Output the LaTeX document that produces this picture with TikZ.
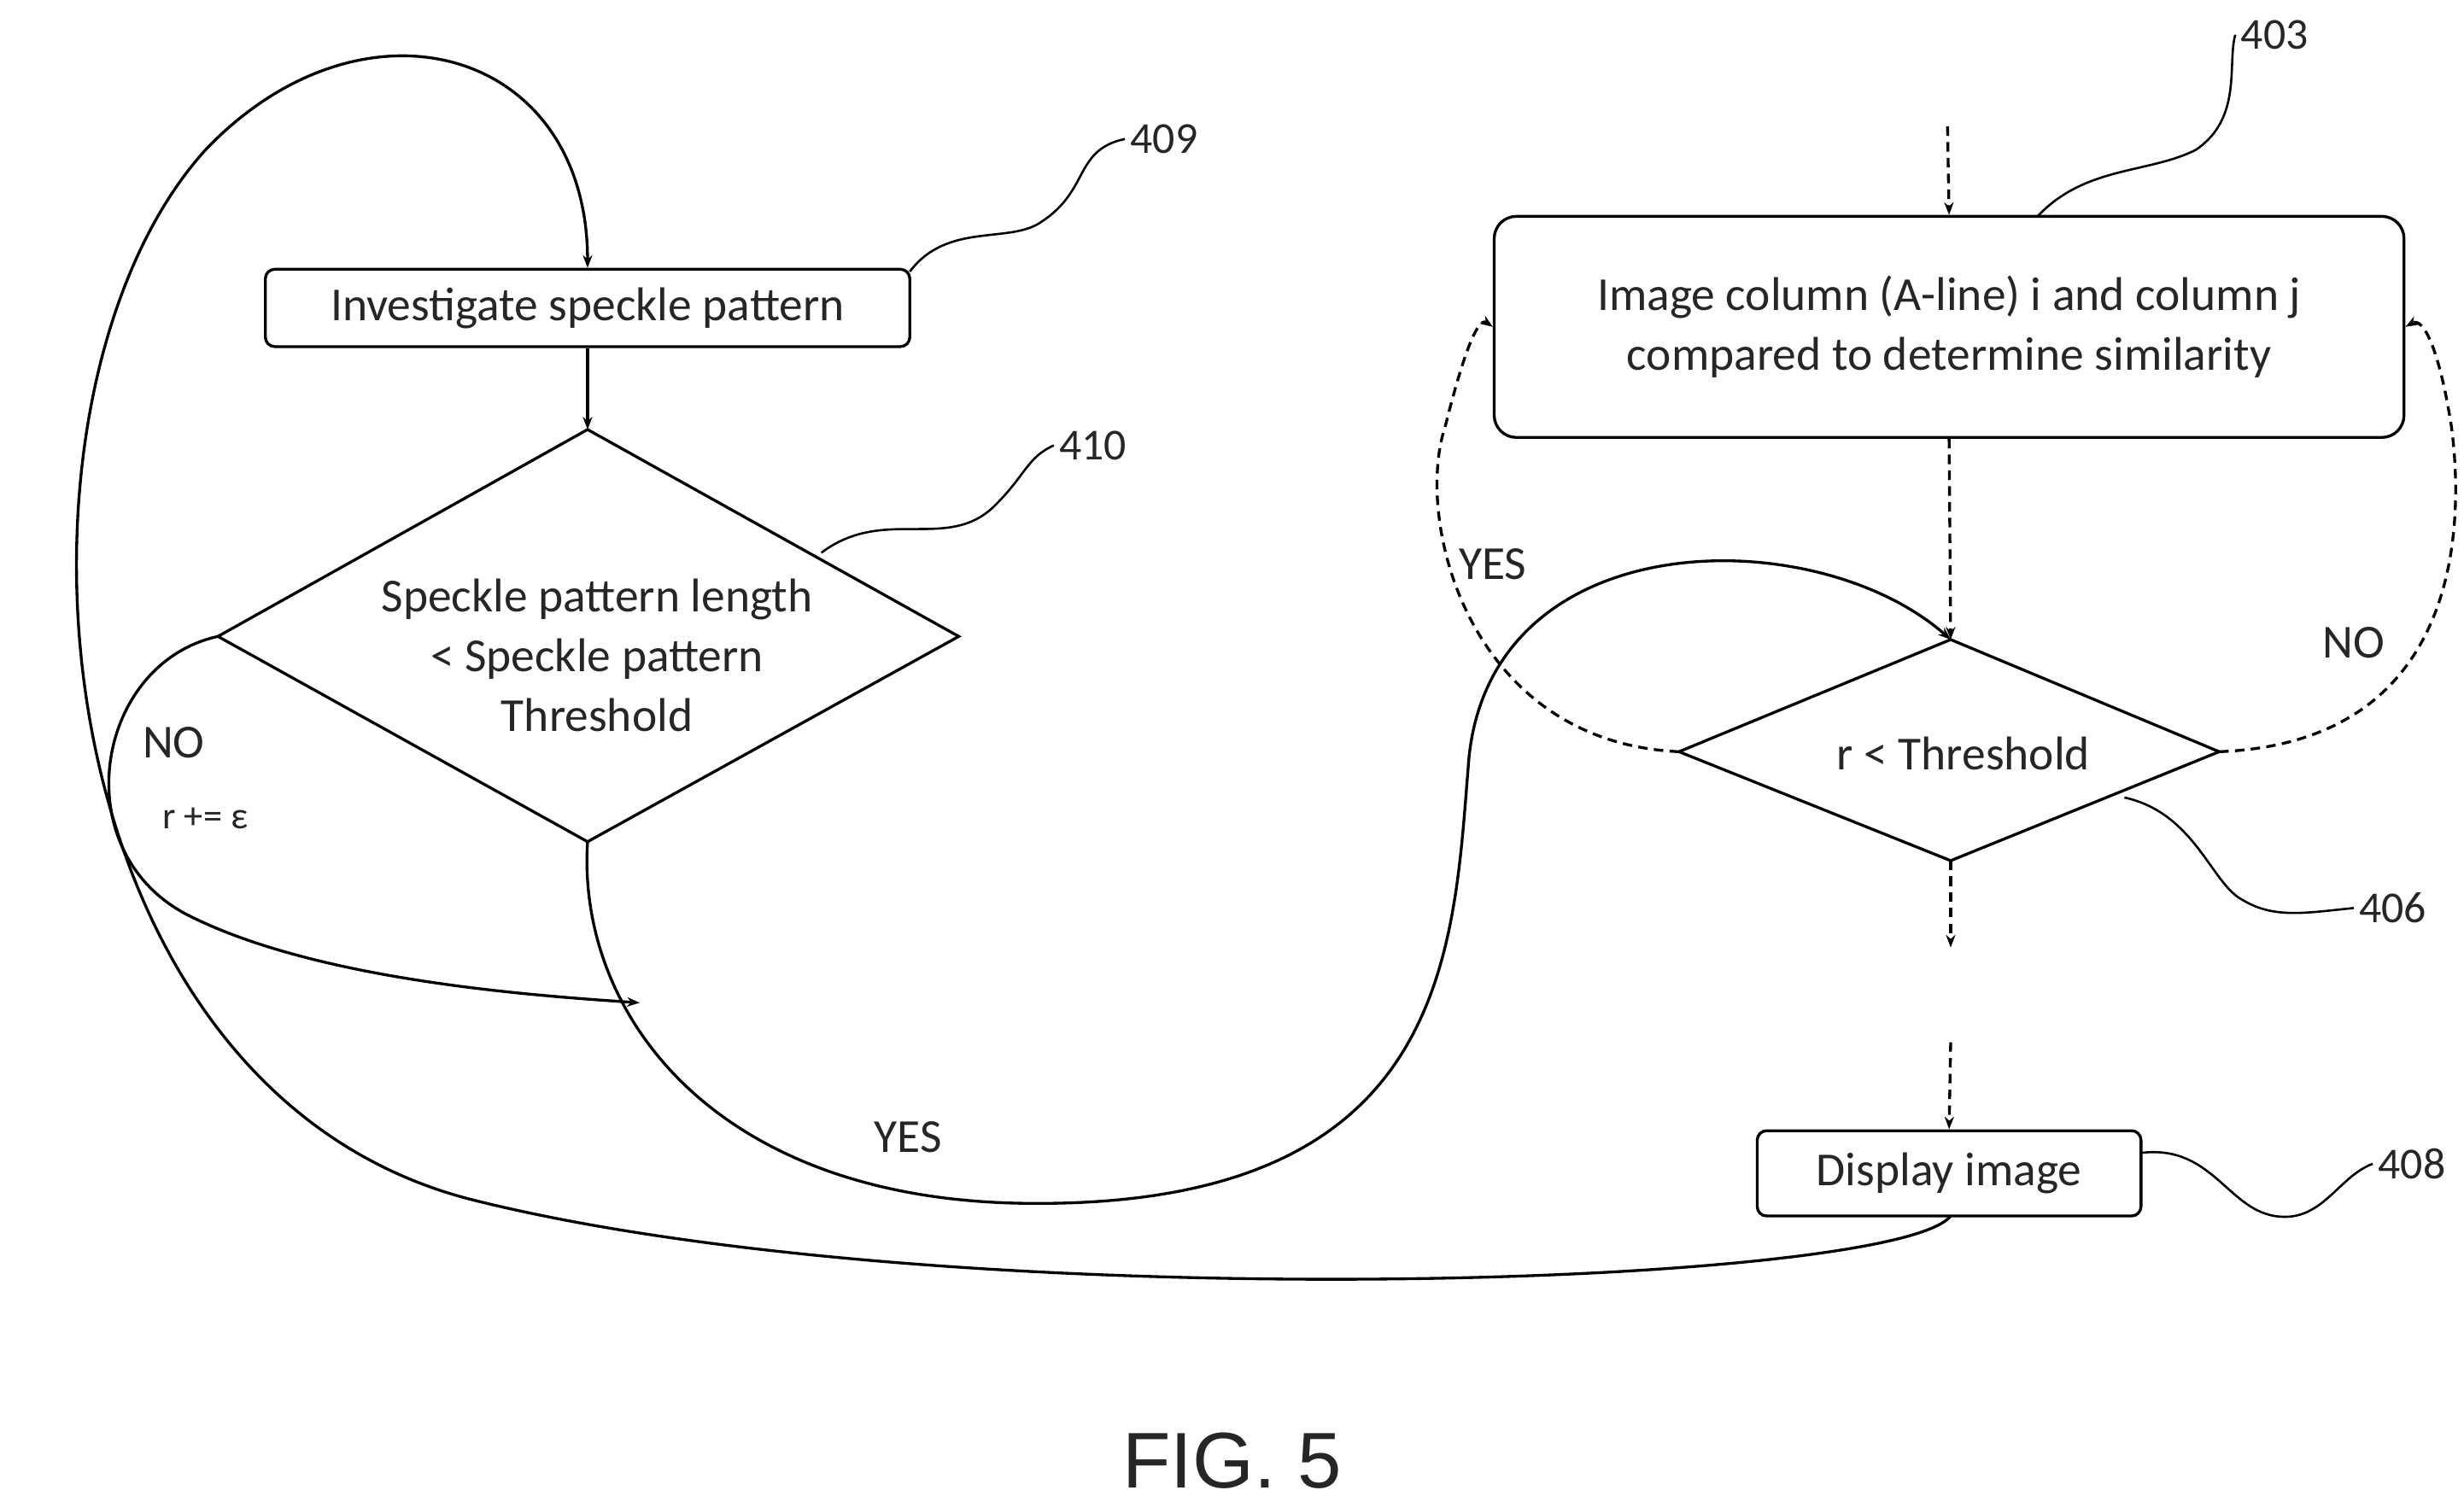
\documentclass[tikz,border=0pt]{standalone}
\usepackage{fontspec}
\setmainfont{Carlito}
\newfontfamily\figfont{Liberation Sans}
\usetikzlibrary{shapes.geometric,arrows.meta}
\begin{document}
\begin{tikzpicture}[x=1pt,y=-1pt,
  every node/.style={font=\fontsize{30}{36}\selectfont, text=black!85},
  box/.style={draw, line width=1.8pt, rounded corners=6pt, inner sep=0pt},
  ln/.style={draw, line width=1.8pt},
  arr/.style={ln, -{Stealth[length=8pt,width=6pt]}},
  darr/.style={arr, dashed, dash pattern=on 6pt off 4pt},
  lab/.style={font=\fontsize{28}{32}\selectfont}]
\useasboundingbox (0,0) rectangle (1560,951);
% nodes
\node[box, minimum width=408pt, minimum height=49pt] (b409) at (372,195) {Investigate speckle pattern};
\coordinate (d1t) at (372,272); \coordinate (d1l) at (138,403);
\coordinate (d1r) at (607,403); \coordinate (d1b) at (372,533);
\draw[ln] (d1t) -- (d1r) -- (d1b) -- (d1l) -- cycle;
\node[align=center, font=\fontsize{30}{38}\selectfont] (t410) at (378,415) {Speckle pattern length\\ < Speckle pattern\\ Threshold};
\node[box, rounded corners=14pt, minimum width=576pt, minimum height=140pt, align=center, font=\fontsize{30}{38}\selectfont] (b403) at (1234,207) {Image column (A-line) i and column j\\ compared to determine similarity};
\coordinate (d2t) at (1235,405); \coordinate (d2l) at (1063,476);
\coordinate (d2r) at (1405,476); \coordinate (d2b) at (1235,545);
\draw[ln] (d2t) -- (d2r) -- (d2b) -- (d2l) -- cycle;
\node (t406) at (1243,477) {r < Threshold};
\node[box, minimum width=243pt, minimum height=54pt] (b408) at (1234,743) {Display image};
% labels
\node[lab] (n409) at (737,88) {409};
\node[lab] (n410) at (692,282) {410};
\node[lab] (n403) at (1440,22) {403};
\node[lab] (n406) at (1515,575) {406};
\node[lab] (n408) at (1527,737) {408};
\node (no1) at (110,470) {NO};
\node[font=\fontsize{24}{28}\selectfont] (eps) at (130,518) {r += ε};
\node (yes1) at (575,720) {YES};
\node (yes2) at (945,357) {YES};
\node (no2) at (1490,407) {NO};
\node[font=\figfont\fontsize{50}{56}\selectfont] (fig) at (780,925) {FIG. 5};
% leaders
\draw[ln, line width=1.4pt] (576,172) .. controls (600,140) and (640,155) .. (660,140) .. controls (690,120) and (680,95) .. (n409.west);
\draw[ln, line width=1.4pt] (520,350) .. controls (560,320) and (600,350) .. (630,320) .. controls (650,300) and (650,290) .. (n410.west);
\draw[ln, line width=1.4pt] (1290,137) .. controls (1320,105) and (1360,110) .. (1390,95) .. controls (1420,75) and (1410,40) .. (n403.west);
\draw[ln, line width=1.4pt] (1345,505) .. controls (1390,515) and (1400,560) .. (1420,570) .. controls (1440,582) and (1460,578) .. (n406.west);
\draw[ln, line width=1.4pt] (1356,730) .. controls (1400,725) and (1410,765) .. (1440,770) .. controls (1470,775) and (1480,745) .. (n408.west);
% solid connectors
\coordinate (c0) at (1235,770);
\draw[arr] (c0) .. controls (1200,815) and (600,835) .. (300,760) .. controls (20,690) and (-10,250) .. (130,95) .. controls (230,-10) and (372,30) .. (b409.north);
\draw[arr] (b409.south) -- (d1t);
\draw[arr] (d1l) .. controls (60,420) and (40,540) .. (120,580) .. controls (200,620) and (330,630) .. (405,635);
\draw[arr] (d1b) .. controls (365,640) and (450,760) .. (650,762) .. controls (920,765) and (920,600) .. (930,480) .. controls (945,330) and (1150,330) .. (d2t);
% dashed
\coordinate (top0) at (1233,80);
\draw[darr] (top0) -- (b403.north);
\draw[darr] (b403.south) -- (d2t);
\coordinate (m1) at (1235,600); \coordinate (m2) at (1235,660);
\draw[darr] (d2b) -- (m1);
\draw[darr] (m2) -- (b408.north);
\draw[darr] (d2l) .. controls (930,470) and (895,330) .. (915,270) .. controls (925,230) and (935,200) .. (b403.west);
\draw[darr] (d2r) .. controls (1560,470) and (1560,330) .. (1552,270) .. controls (1545,225) and (1535,200) .. (b403.east);
\end{tikzpicture}
\end{document}
